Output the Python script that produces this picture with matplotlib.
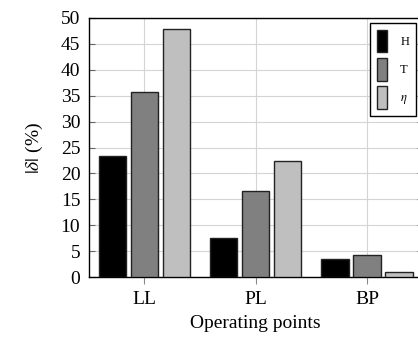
import matplotlib
matplotlib.use("Agg")
import matplotlib.pyplot as plt
import numpy as np

categories = ["LL", "PL", "BP"]
series_names = ["H", "T", r"$\eta$"]
H_vals = [23.4, 7.5, 3.5]
T_vals = [35.7, 16.6, 4.3]
eta_vals = [47.9, 22.4, 1.0]
colors = ["#000000", "#808080", "#bfbfbf"]
yticks = list(range(0, 51, 5))

plt.rcParams['font.family'] = ['Liberation Serif', 'DejaVu Serif']
plt.rcParams['mathtext.fontset'] = 'stix'

fig = plt.figure(figsize=(4.18, 3.52), dpi=100)
ax = fig.add_axes([88.6/418, 1-277/352, 334/418, (277-18)/352])

x = np.arange(len(categories))
width = 0.245
offset = 0.288
for i, (vals, c, name) in enumerate(zip([H_vals, T_vals, eta_vals], colors, series_names)):
    ax.bar(x + (i-1)*offset, vals, width, color=c, edgecolor="#222222",
           linewidth=1.0, label=name, zorder=3)

ax.set_xlim(-0.5, 2.5)
ax.set_ylim(0, 50)
ax.set_xticks(x)
ax.set_xticklabels(categories, fontsize=14)
ax.set_yticks(yticks)
ax.set_yticklabels([str(t) for t in yticks], fontsize=14)
ax.grid(True, color="#d4d4d4", linewidth=0.8, zorder=0)
ax.set_axisbelow(True)
ax.tick_params(axis='y', direction='in', length=4, color='#666666', right=True, pad=6)
ax.tick_params(axis='x', direction='out', length=5, color='#888888', pad=5)
for s in ax.spines.values():
    s.set_linewidth(1.0)
    s.set_color('black')
ax.set_xlabel("Operating points", fontsize=14, labelpad=5)
ax.set_ylabel(r"$|\delta|$ (%)", fontsize=14, labelpad=11)

leg = fig.legend(loc='upper right', bbox_to_anchor=(416/418, 1-23/352), fontsize=9,
                 handlelength=0.8, handleheight=2.4, handletextpad=1.1,
                 labelspacing=0.45, borderpad=0.55, fancybox=False, framealpha=1,
                 edgecolor='black', borderaxespad=0)
leg.get_frame().set_linewidth(1.0)

fig.savefig("out.png", dpi=100)
